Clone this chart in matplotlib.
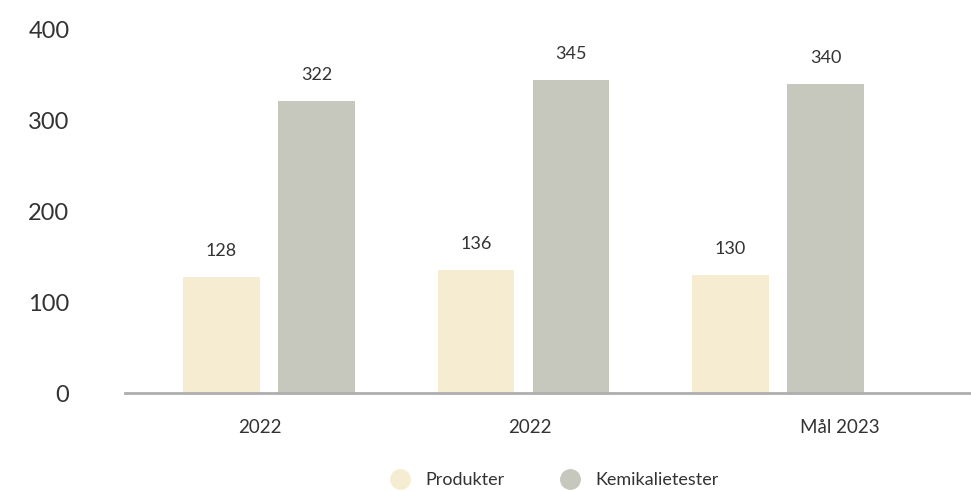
import matplotlib
matplotlib.use("Agg")
import matplotlib.pyplot as plt
from matplotlib.lines import Line2D
import numpy as np

categories = ["2022", "2022", "Mål 2023"]
series_names = ["Produkter", "Kemikalietester"]
produkter = [128, 136, 130]
kemikalietester = [322, 345, 340]
y_ticks = [0, 100, 200, 300, 400]

COLORS = ["#F5ECD1", "#C6C7BD"]
TEXT = "#333333"

plt.rcParams["font.family"] = ["Lato", "DejaVu Sans"]

fig = plt.figure(figsize=(9.71, 4.91), dpi=100)
ax = fig.add_axes([125 / 971, 1 - 393 / 491, 1 - 125 / 971, (393 - 30) / 491])

x = np.arange(len(categories))
w = 0.30
off = 0.187
for vals, dx, col in [(produkter, -off, COLORS[0]), (kemikalietester, off, COLORS[1])]:
    bars = ax.bar(x + dx, vals, width=w, color=col, zorder=2)
    for b, v in zip(bars, vals):
        ax.annotate(str(v), (b.get_x() + b.get_width() / 2, v), xytext=(0, 13),
                    textcoords="offset points", ha="center", va="bottom",
                    fontsize=13, color=TEXT)

ax.set_xlim(-0.566, 2.758)
ax.set_ylim(0, 400)

# category labels sit slightly off the group centres in the original
label_pos = [-0.035, 1.026, 2.244]
ax.set_xticks(label_pos)
ax.set_xticklabels(categories, fontsize=13.5, color=TEXT)
ax.set_yticks(y_ticks)
ax.set_yticklabels([str(t) for t in y_ticks], fontsize=17, color=TEXT)
ax.tick_params(axis="x", length=0, pad=19)
ax.tick_params(axis="y", length=0, pad=40)

for s in ["top", "right", "left"]:
    ax.spines[s].set_visible(False)
ax.spines["bottom"].set_color("#AEAEAE")
ax.spines["bottom"].set_linewidth(2)
ax.spines["bottom"].set_zorder(3)

handles = [Line2D([0], [0], marker="o", linestyle="", markersize=14,
                  markerfacecolor=c, markeredgecolor=c, label=n)
           for c, n in zip(COLORS, series_names)]
fig.legend(handles=handles, loc="center", bbox_to_anchor=(0.567, 0.022),
           ncol=2, frameon=False, fontsize=13, handletextpad=0.4,
           columnspacing=2.6, labelcolor=TEXT)

fig.savefig("out.png", dpi=100)
